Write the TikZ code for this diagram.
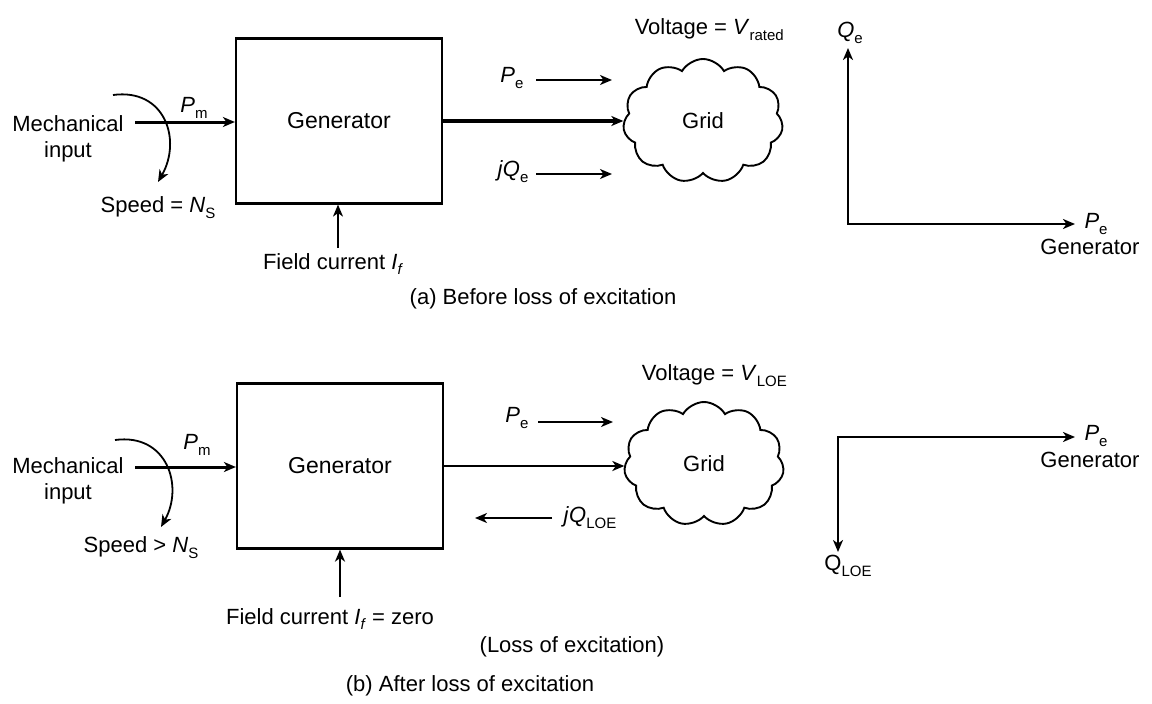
\documentclass[tikz,border=0pt]{standalone}
\usepackage{fontspec}
\setmainfont{Liberation Sans}
\usetikzlibrary{arrows.meta,shapes.symbols}
\newcommand\lsub[1]{\raisebox{-0.5ex}{\fontsize{15}{15}\selectfont #1}}
\begin{document}
\begin{tikzpicture}[x=1pt,y=-1pt,
  txt/.style={font=\fontsize{22}{26}\selectfont, inner sep=0pt, align=center},
  genbox/.style={draw, line width=2.2pt, minimum width=206pt, minimum height=165pt, font=\fontsize{23}{23}\selectfont},
  gridcloud/.style={cloud, draw, line width=1.9pt, cloud puffs=11, cloud puff arc=120,
     minimum width=160pt, minimum height=124pt, inner sep=0pt, font=\fontsize{22}{22}\selectfont},
  tip/.style={-{Stealth[length=12pt,width=10pt,inset=3.5pt]}},
  sarr/.style={tip, line width=1.8pt},
  axis/.style={{Stealth[length=12pt,width=10pt,inset=3.5pt]}-{Stealth[length=12pt,width=10pt,inset=3.5pt]}, line width=2.3pt},
  ]
\useasboundingbox[fill=white] (0,0) rectangle (1152,704);

% ---------------- (a) Before loss of excitation ----------------
\node[genbox] (gA) at (339,121) {Generator};
\node[gridcloud] (cA) at (703,121) {Grid};
\node[txt] (mA) at (68,139) {Mechanical\\input};
\node[txt] (pmA) at (194,108) {\textit{P}\lsub{m}};
\node[txt] (sA) at (158,208) {Speed = \textit{N}\lsub{S}};
\coordinate (pmAs) at (135,122);
\draw[tip, line width=3pt] (pmAs) -- (pmAs -| gA.west);
\coordinate (rA1) at (113,95);
\coordinate (rA2) at (158,182);
\draw[sarr] (rA1) .. controls (165,88) and (182,140) .. (rA2);
\node[txt] (fA) at (333,264) {Field current \textit{I}\lsub{\textit{f}}};
\coordinate (fAs) at (338,248);
\draw[tip, line width=1.3pt] (fAs) -- (fAs |- gA.south);
\draw[tip, line width=3.6pt] (gA.east) -- (gA.east -| cA.west);
\node[txt] (peA) at (512,78) {\textit{P}\lsub{e}};
\coordinate (peA1) at (536,80);
\coordinate (peA2) at (612,80);
\draw[sarr] (peA1) -- (peA2);
\node[txt] (jqA) at (513,172) {\textit{j}\textit{Q}\lsub{e}};
\coordinate (jqA1) at (536,174);
\coordinate (jqA2) at (612,174);
\draw[sarr] (jqA1) -- (jqA2);
\node[txt, anchor=east] (vA) at (784,30) {Voltage = \textit{V}\lsub{rated}};
\coordinate (qAt) at (848,48);
\coordinate (oA) at (848,224);
\coordinate (pAt) at (1075,224);
\draw[axis] (qAt) -- (oA) -- (pAt);
\node[txt] (qA) at (850,33) {\textit{Q}\lsub{e}};
\node[txt] (paxA) at (1096,224) {\textit{P}\lsub{e}};
\node[txt] (gnA) at (1090,247) {Generator};
\node[txt] (capA) at (543,299) {(a) Before loss of excitation};

% ---------------- (b) After loss of excitation ----------------
\node[genbox] (gB) at (340,466) {Generator};
\node[gridcloud] (cB) at (704,464) {Grid};
\node[txt] (mB) at (68,481) {Mechanical\\input};
\node[txt] (pmB) at (197,445) {\textit{P}\lsub{m}};
\node[txt] (sB) at (141,548) {Speed \textgreater{} \textit{N}\lsub{S}};
\coordinate (pmBs) at (135,467);
\draw[tip, line width=3pt] (pmBs) -- (pmBs -| gB.west);
\coordinate (rB1) at (115,440);
\coordinate (rB2) at (161,527);
\draw[sarr] (rB1) .. controls (167,433) and (184,486) .. (rB2);
\node[txt] (fB) at (330,619) {Field current \textit{I}\lsub{\textit{f}} = zero};
\coordinate (fBs) at (340,597);
\draw[tip, line width=1.9pt] (fBs) -- (fBs |- gB.south);
\node[txt] (loe) at (572,647) {(Loss of excitation)};
\draw[tip, line width=2.8pt] (gB.east) -- (gB.east -| cB.west);
\node[txt] (peB) at (517,418) {\textit{P}\lsub{e}};
\coordinate (peB1) at (538,422);
\coordinate (peB2) at (613,422);
\draw[sarr] (peB1) -- (peB2);
\node[txt] (jqB) at (590,518) {\textit{j}\textit{Q}\lsub{LOE}};
\coordinate (jqB1) at (552,518);
\coordinate (jqB2) at (475,518);
\draw[sarr] (jqB1) -- (jqB2);
\node[txt, anchor=east] (vB) at (787,376) {Voltage = \textit{V}\lsub{LOE}};
\coordinate (pBt) at (1075,437);
\coordinate (oB) at (838,437);
\coordinate (qBt) at (838,552);
\draw[axis] (pBt) -- (oB) -- (qBt);
\node[txt] (paxB) at (1096,436) {\textit{P}\lsub{e}};
\node[txt] (gnB) at (1090,460) {Generator};
\node[txt] (qB) at (848,566) {Q\lsub{LOE}};
\node[txt] (capB) at (470,686) {(b) After loss of excitation};
\end{tikzpicture}
\end{document}
